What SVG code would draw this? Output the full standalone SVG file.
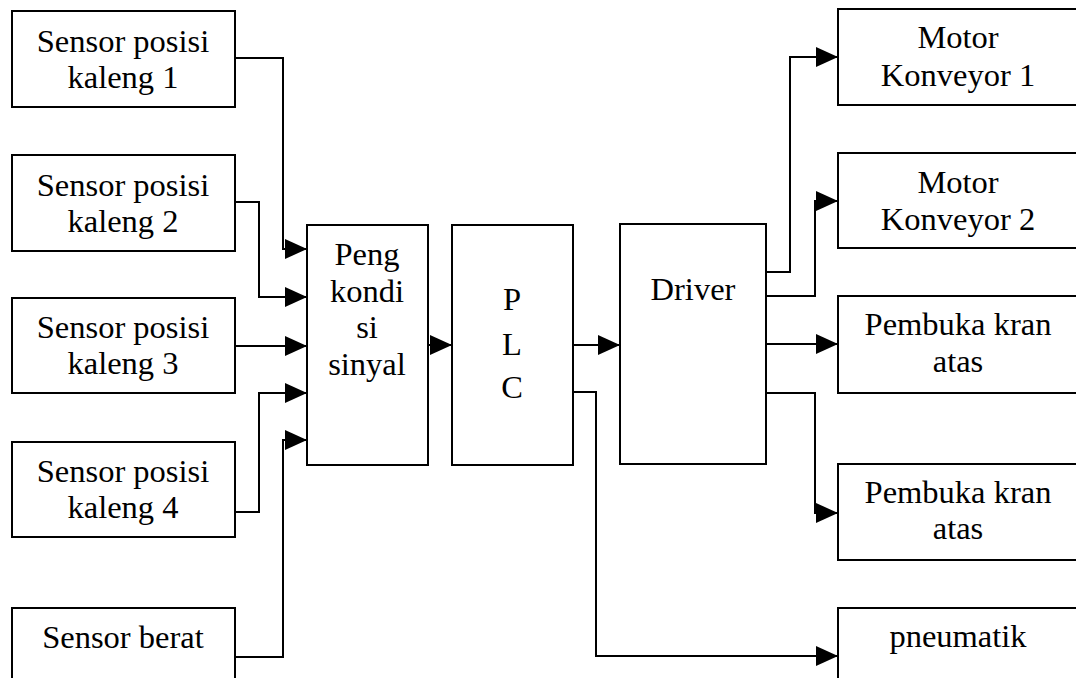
<svg xmlns="http://www.w3.org/2000/svg" width="1076" height="678" viewBox="0 0 1076 678">
<style>
.box{fill:#fff;stroke:#000;stroke-width:2}
.t{font-family:"Liberation Serif","Times New Roman",serif;font-size:32.5px;fill:#000;text-anchor:middle}
.c{fill:none;stroke:#000;stroke-width:2}
</style>
<defs>
<marker id="ah" markerWidth="22" markerHeight="20" refX="22" refY="10" orient="auto" markerUnits="userSpaceOnUse">
<path d="M0,0 L22,10 L0,20 Z" fill="#000"/>
</marker>
</defs>
<rect width="1076" height="678" fill="#fff"/>
<g id="connectors">
<polyline class="c" points="235,58 283,58 283,249 307,249" marker-end="url(#ah)"/>
<polyline class="c" points="235,202 259,202 259,297 307,297" marker-end="url(#ah)"/>
<polyline class="c" points="235,346 307,346" marker-end="url(#ah)"/>
<polyline class="c" points="235,512 259,512 259,393 307,393" marker-end="url(#ah)"/>
<polyline class="c" points="235,657 283,657 283,440 307,440" marker-end="url(#ah)"/>
<polyline class="c" points="428,345 452,345" marker-end="url(#ah)"/>
<polyline class="c" points="573,345 620,345" marker-end="url(#ah)"/>
<polyline class="c" points="573,392 596,392 596,656 838,656" marker-end="url(#ah)"/>
<polyline class="c" points="766,272 790,272 790,57 838,57" marker-end="url(#ah)"/>
<polyline class="c" points="766,296 815,296 815,201 838,201" marker-end="url(#ah)"/>
<polyline class="c" points="766,344 838,344" marker-end="url(#ah)"/>
<polyline class="c" points="766,393 815,393 815,513 838,513" marker-end="url(#ah)"/>
</g>
<g id="sensor1"><rect class="box" x="12" y="11" width="223" height="96"/><text class="t" x="123" y="52">Sensor posisi</text><text class="t" x="123" y="88">kaleng 1</text></g>
<g id="sensor2"><rect class="box" x="12" y="155" width="223" height="96"/><text class="t" x="123" y="196">Sensor posisi</text><text class="t" x="123" y="232">kaleng 2</text></g>
<g id="sensor3"><rect class="box" x="12" y="298" width="223" height="95"/><text class="t" x="123" y="338">Sensor posisi</text><text class="t" x="123" y="374">kaleng 3</text></g>
<g id="sensor4"><rect class="box" x="12" y="442" width="223" height="95"/><text class="t" x="123" y="482">Sensor posisi</text><text class="t" x="123" y="518">kaleng 4</text></g>
<g id="sensor5"><rect class="box" x="12" y="608" width="223" height="80"/><text class="t" x="123" y="648">Sensor berat</text></g>
<g id="pengkondisi"><rect class="box" x="307" y="225" width="121" height="240"/><text class="t" x="367" y="265">Peng</text><text class="t" x="367" y="302">kondi</text><text class="t" x="367" y="338">si</text><text class="t" x="367" y="375">sinyal</text></g>
<g id="plc"><rect class="box" x="452" y="225" width="121" height="240"/><text class="t" x="512" y="310">P</text><text class="t" x="512" y="355">L</text><text class="t" x="512" y="398">C</text></g>
<g id="driver"><rect class="box" x="620" y="224" width="146" height="240"/><text class="t" x="693" y="300">Driver</text></g>
<g id="motor1"><rect class="box" x="838" y="9" width="248" height="96"/><text class="t" x="958" y="48">Motor</text><text class="t" x="958" y="86">Konveyor 1</text></g>
<g id="motor2"><rect class="box" x="838" y="153" width="248" height="95"/><text class="t" x="958" y="193">Motor</text><text class="t" x="958" y="230">Konveyor 2</text></g>
<g id="kran1"><rect class="box" x="838" y="296" width="248" height="97"/><text class="t" x="958" y="335">Pembuka kran</text><text class="t" x="958" y="372">atas</text></g>
<g id="kran2"><rect class="box" x="838" y="464" width="248" height="96"/><text class="t" x="958" y="503">Pembuka kran</text><text class="t" x="958" y="539">atas</text></g>
<g id="pneumatik"><rect class="box" x="838" y="608" width="248" height="80"/><text class="t" x="958" y="647">pneumatik</text></g>
</svg>
